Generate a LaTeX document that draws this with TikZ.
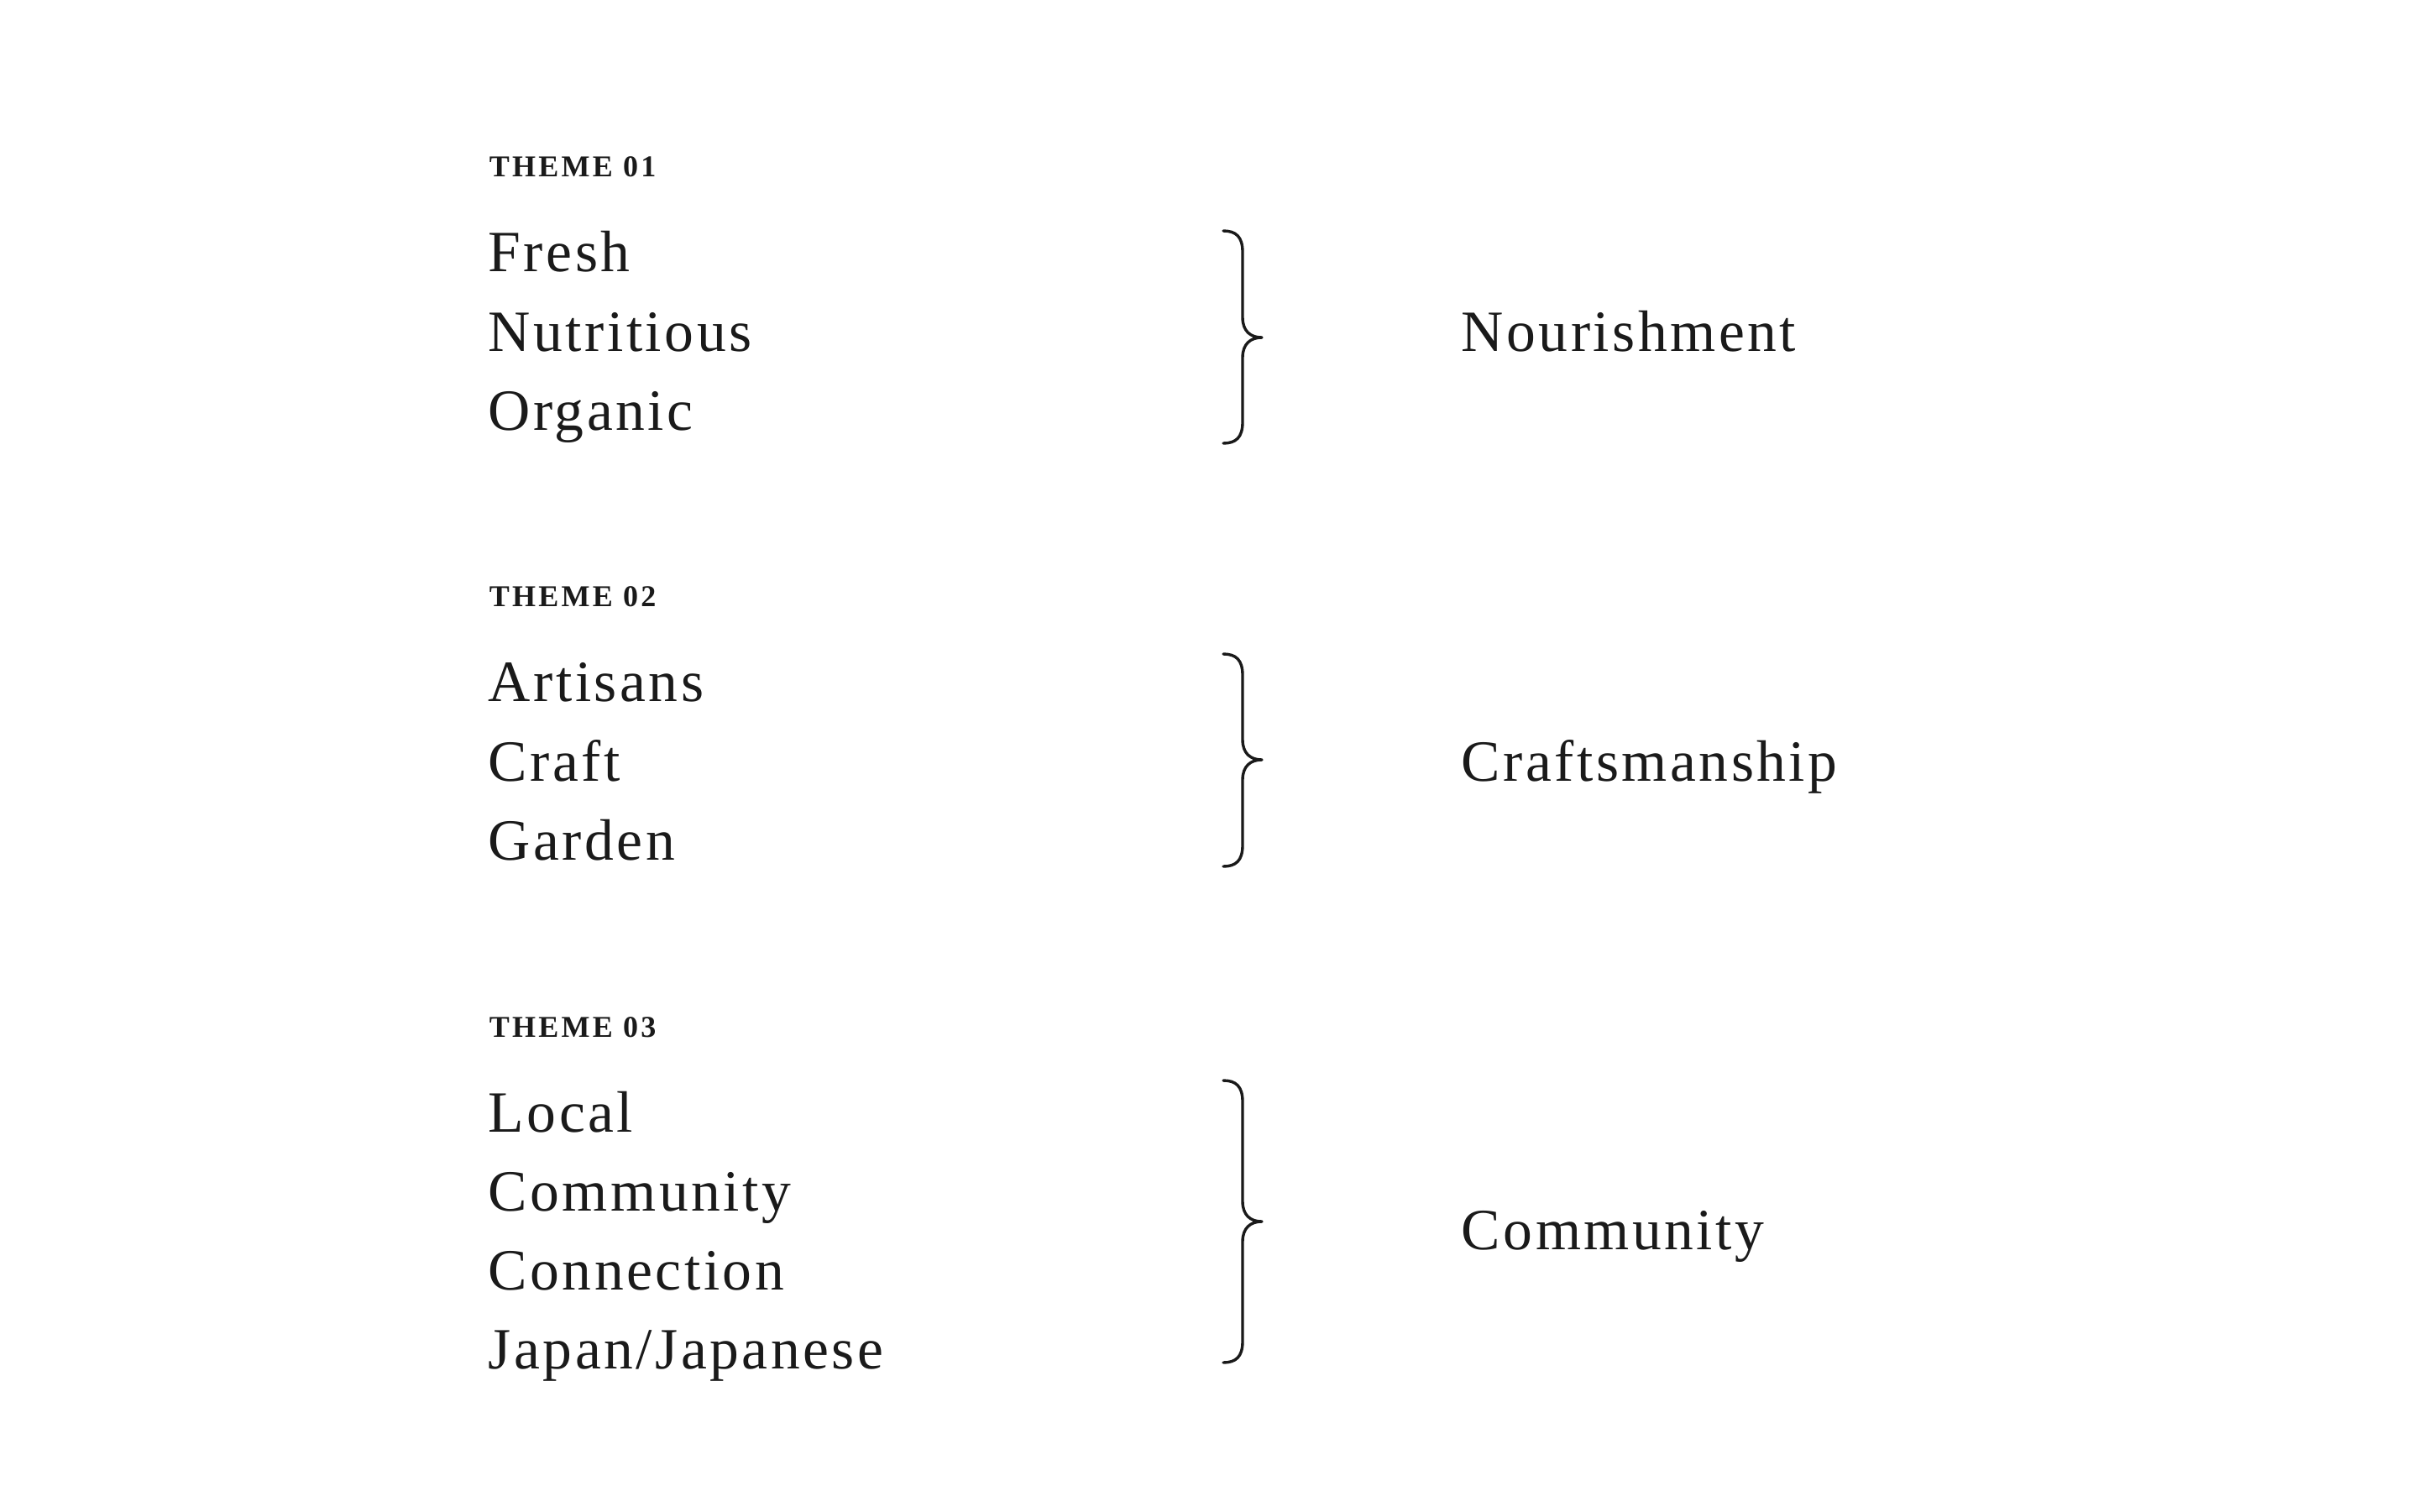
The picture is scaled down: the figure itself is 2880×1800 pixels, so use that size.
\documentclass[tikz,border=0pt]{standalone}
\usepackage{fontspec}
\setmainfont{Liberation Serif}
\definecolor{ink}{HTML}{1A1A1A}
\newcommand{\drawbrace}[4]{% name, top, tip, bottom
  \coordinate (#1t) at (1457,#2);
  \coordinate (#1m) at (1503,#3);
  \coordinate (#1b) at (1457,#4);
  \draw[bracestyle] (#1t) .. controls (1472,#2) and (1480,#2+7) .. (1480,#2+25)
    -- (1480,#3-24) .. controls (1480,#3-8) and (1489,#3) .. (#1m)
    .. controls (1489,#3) and (1480,#3+8) .. (1480,#3+24)
    -- (1480,#4-25) .. controls (1480,#4-7) and (1472,#4) .. (#1b);}
\begin{document}
\begin{tikzpicture}[x=0.25pt,y=-0.25pt,
  word/.style={anchor=base west,inner sep=0pt,text=ink,font=\fontsize{17.4pt}{20pt}\selectfont\addfontfeature{LetterSpace=5}},
  label/.style={anchor=base west,inner sep=0pt,text=ink,font=\fontsize{9pt}{10pt}\selectfont\bfseries\addfontfeature{LetterSpace=9}},
  bracestyle/.style={draw=ink,line width=0.85pt,line cap=round,line join=round}]
\useasboundingbox[fill=white] (0,0) rectangle (2880,1800);
% Theme 01
\node[label] (t1) at (582,210) {THEME 01};
\node[word] (w11) at (581,323) {Fresh};
\node[word] (w12) at (581,418) {Nutritious};
\node[word] (w13) at (581,512) {Organic};
\drawbrace{b1}{275}{402}{528}
\node[word] (r1) at (1740,418) {Nourishment};
% Theme 02
\node[label] (t2) at (582,722) {THEME 02};
\node[word] (w21) at (581,835) {Artisans};
\node[word] (w22) at (581,930) {Craft};
\node[word] (w23) at (581,1024) {Garden};
\drawbrace{b2}{779}{905}{1032}
\node[word] (r2) at (1740,930) {Craftsmanship};
% Theme 03
\node[label] (t3) at (582,1235) {THEME 03};
\node[word] (w31) at (581,1348) {Local};
\node[word] (w32) at (581,1442) {Community};
\node[word] (w33) at (581,1536) {Connection};
\node[word] (w34) at (581,1630) {Japan/Japanese};
\drawbrace{b3}{1287}{1455}{1623}
\node[word] (r3) at (1740,1488) {Community};
\end{tikzpicture}
\end{document}
